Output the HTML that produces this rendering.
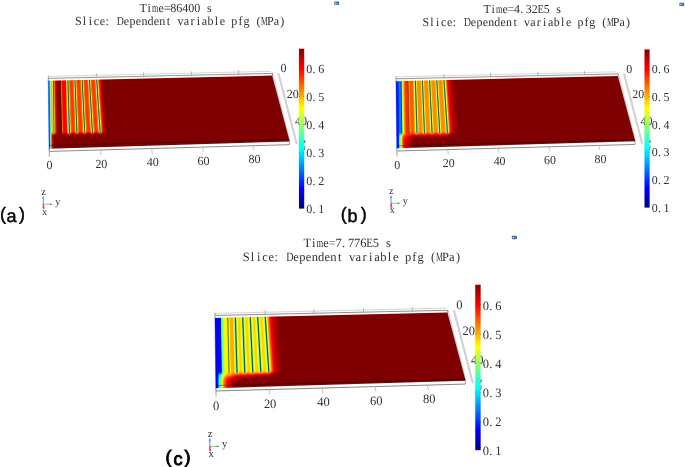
<!DOCTYPE html>
<html lang="en"><head><meta charset="utf-8"><title>Slice: Dependent variable pfg (MPa)</title>
<style>html,body{margin:0;padding:0;background:#fff;}svg{display:block;}text{text-rendering:geometricPrecision;}</style>
</head><body>
<svg width="685" height="467" viewBox="0 0 685 467">
<defs>
<filter id="jet" x="0" y="0" width="1" height="1" filterUnits="objectBoundingBox" color-interpolation-filters="sRGB"><feComponentTransfer><feFuncR type="table" tableValues="0 0 0 0 0.5 1 1 1 0.5"/><feFuncG type="table" tableValues="0 0 0.5 1 1 1 0.5 0 0"/><feFuncB type="table" tableValues="0.5 1 1 1 0.5 0 0 0 0"/></feComponentTransfer></filter>
<filter id="bl08" x="-30" y="-30" width="400" height="300" filterUnits="userSpaceOnUse" color-interpolation-filters="sRGB"><feGaussianBlur stdDeviation="0.8"/></filter>
<filter id="bl10" x="-30" y="-30" width="400" height="300" filterUnits="userSpaceOnUse" color-interpolation-filters="sRGB"><feGaussianBlur stdDeviation="1.0"/></filter>
<filter id="bl20" x="-30" y="-30" width="400" height="300" filterUnits="userSpaceOnUse" color-interpolation-filters="sRGB"><feGaussianBlur stdDeviation="2.0"/></filter>
<clipPath id="clipq"><polygon points="48.2,80.8 272.2,75.6 289.7,141.5 49,148.65" fill="#000"/></clipPath>
<linearGradient id="cbar" x1="0" y1="0" x2="0" y2="1"><stop offset="0" stop-color="#800000"/><stop offset="0.125" stop-color="#ff0000"/><stop offset="0.375" stop-color="#ffff00"/><stop offset="0.625" stop-color="#00ffff"/><stop offset="0.875" stop-color="#0000ff"/><stop offset="1" stop-color="#000080"/></linearGradient>
<linearGradient id="a_well" gradientUnits="userSpaceOnUse" x1="48.86" y1="137" x2="54.86" y2="136.93"><stop offset="0" stop-color="#000" stop-opacity="0.81"/><stop offset="0.17" stop-color="#000" stop-opacity="0.79"/><stop offset="0.25" stop-color="#000" stop-opacity="0.62"/><stop offset="0.33" stop-color="#000" stop-opacity="0.38"/><stop offset="0.42" stop-color="#000" stop-opacity="0.25"/><stop offset="0.53" stop-color="#000" stop-opacity="0.12"/><stop offset="0.73" stop-color="#000" stop-opacity="0.03"/><stop offset="1" stop-color="#000" stop-opacity="0"/></linearGradient>
<mask id="a_tm" maskUnits="userSpaceOnUse" x="20" y="40" width="140" height="130"><g filter="url(#bl08)"><polygon points="30,50 140,50 140,132.18 30,134.38" fill="#fff"/></g></mask>
<linearGradient id="a_w" gradientUnits="userSpaceOnUse" x1="48.51" y1="107" x2="53.76" y2="106.94"><stop offset="0" stop-color="#333333"/><stop offset="0.2" stop-color="#3b3b3b"/><stop offset="0.32" stop-color="#606060"/><stop offset="0.42" stop-color="#8c8c8c"/><stop offset="0.54" stop-color="#adadad"/><stop offset="0.67" stop-color="#b5b5b5"/><stop offset="0.8" stop-color="#a8a8a8"/><stop offset="0.9" stop-color="#8f8f8f"/><stop offset="1" stop-color="#737373"/></linearGradient>
<linearGradient id="a_b0" gradientUnits="userSpaceOnUse" x1="53.76" y1="107" x2="61.16" y2="106.87"><stop offset="0" stop-color="#737373"/><stop offset="0.1" stop-color="#b2b2b2"/><stop offset="0.18" stop-color="#cccccc"/><stop offset="0.25" stop-color="#dfdfdf"/><stop offset="0.4" stop-color="#f2f2f2"/><stop offset="0.55" stop-color="#fbfbfb"/><stop offset="1" stop-color="#ffffff"/></linearGradient>
<linearGradient id="a_b1" gradientUnits="userSpaceOnUse" x1="61.16" y1="107" x2="68.69" y2="106.8"><stop offset="0" stop-color="#9e9e9e"/><stop offset="0.09" stop-color="#b8b8b8"/><stop offset="0.16" stop-color="#d1d1d1"/><stop offset="0.25" stop-color="#dfdfdf"/><stop offset="0.64" stop-color="#dfdfdf"/><stop offset="0.75" stop-color="#bfbfbf"/><stop offset="0.82" stop-color="#a6a6a6"/><stop offset="0.9" stop-color="#878787"/><stop offset="1" stop-color="#6b6b6b"/></linearGradient>
<linearGradient id="a_b2" gradientUnits="userSpaceOnUse" x1="68.69" y1="107" x2="75.95" y2="106.76"><stop offset="0" stop-color="#6e6e6e"/><stop offset="0.06" stop-color="#858585"/><stop offset="0.13" stop-color="#a3a3a3"/><stop offset="0.22" stop-color="#c1c1c1"/><stop offset="0.34" stop-color="#cfcfcf"/><stop offset="0.5" stop-color="#d2d2d2"/><stop offset="0.66" stop-color="#cfcfcf"/><stop offset="0.78" stop-color="#c1c1c1"/><stop offset="0.87" stop-color="#a3a3a3"/><stop offset="0.94" stop-color="#858585"/><stop offset="1" stop-color="#6e6e6e"/></linearGradient>
<linearGradient id="a_b3" gradientUnits="userSpaceOnUse" x1="75.95" y1="107" x2="83.44" y2="106.69"><stop offset="0" stop-color="#6e6e6e"/><stop offset="0.06" stop-color="#858585"/><stop offset="0.13" stop-color="#a3a3a3"/><stop offset="0.22" stop-color="#c1c1c1"/><stop offset="0.34" stop-color="#cfcfcf"/><stop offset="0.5" stop-color="#d2d2d2"/><stop offset="0.66" stop-color="#cfcfcf"/><stop offset="0.78" stop-color="#c1c1c1"/><stop offset="0.87" stop-color="#a3a3a3"/><stop offset="0.94" stop-color="#858585"/><stop offset="1" stop-color="#6e6e6e"/></linearGradient>
<linearGradient id="a_b4" gradientUnits="userSpaceOnUse" x1="83.45" y1="107" x2="90.93" y2="106.61"><stop offset="0" stop-color="#6e6e6e"/><stop offset="0.06" stop-color="#858585"/><stop offset="0.13" stop-color="#a3a3a3"/><stop offset="0.22" stop-color="#c1c1c1"/><stop offset="0.34" stop-color="#cfcfcf"/><stop offset="0.5" stop-color="#d2d2d2"/><stop offset="0.66" stop-color="#cfcfcf"/><stop offset="0.78" stop-color="#c1c1c1"/><stop offset="0.87" stop-color="#a3a3a3"/><stop offset="0.94" stop-color="#858585"/><stop offset="1" stop-color="#6e6e6e"/></linearGradient>
<linearGradient id="a_b5" gradientUnits="userSpaceOnUse" x1="90.95" y1="107" x2="98.42" y2="106.54"><stop offset="0" stop-color="#6e6e6e"/><stop offset="0.06" stop-color="#858585"/><stop offset="0.13" stop-color="#a3a3a3"/><stop offset="0.22" stop-color="#c1c1c1"/><stop offset="0.34" stop-color="#cfcfcf"/><stop offset="0.5" stop-color="#d2d2d2"/><stop offset="0.66" stop-color="#cfcfcf"/><stop offset="0.78" stop-color="#c1c1c1"/><stop offset="0.87" stop-color="#a3a3a3"/><stop offset="0.94" stop-color="#858585"/><stop offset="1" stop-color="#6e6e6e"/></linearGradient>
<linearGradient id="a_r" gradientUnits="userSpaceOnUse" x1="98.45" y1="107" x2="105.42" y2="106.54"><stop offset="0" stop-color="#6b6b6b"/><stop offset="0.071" stop-color="#808080"/><stop offset="0.143" stop-color="#9f9f9f"/><stop offset="0.243" stop-color="#bfbfbf"/><stop offset="0.371" stop-color="#d9d9d9"/><stop offset="0.5" stop-color="#e6e6e6"/><stop offset="0.714" stop-color="#f5f5f5"/><stop offset="1" stop-color="#ffffff"/></linearGradient>
<linearGradient id="b_well" gradientUnits="userSpaceOnUse" x1="48.86" y1="137" x2="66.86" y2="136.78"><stop offset="0" stop-color="#000" stop-opacity="0.86"/><stop offset="0.1" stop-color="#000" stop-opacity="0.86"/><stop offset="0.16" stop-color="#000" stop-opacity="0.62"/><stop offset="0.21" stop-color="#000" stop-opacity="0.5"/><stop offset="0.26" stop-color="#000" stop-opacity="0.38"/><stop offset="0.32" stop-color="#000" stop-opacity="0.25"/><stop offset="0.42" stop-color="#000" stop-opacity="0.12"/><stop offset="0.51" stop-color="#000" stop-opacity="0.1"/><stop offset="0.76" stop-color="#000" stop-opacity="0.04"/><stop offset="1" stop-color="#000" stop-opacity="0"/></linearGradient>
<mask id="b_tm" maskUnits="userSpaceOnUse" x="20" y="40" width="140" height="130"><g filter="url(#bl10)"><polygon points="30,50 140,50 140,132.58 30,134.78" fill="#fff"/></g></mask>
<linearGradient id="b_w" gradientUnits="userSpaceOnUse" x1="48.51" y1="107" x2="53.76" y2="106.94"><stop offset="0" stop-color="#1a1a1a"/><stop offset="0.09" stop-color="#262626"/><stop offset="0.44" stop-color="#292929"/><stop offset="0.55" stop-color="#3d3d3d"/><stop offset="0.87" stop-color="#404040"/><stop offset="1" stop-color="#5c5c5c"/></linearGradient>
<linearGradient id="b_b0" gradientUnits="userSpaceOnUse" x1="53.76" y1="107" x2="61.16" y2="106.87"><stop offset="0" stop-color="#5c5c5c"/><stop offset="0.075" stop-color="#808080"/><stop offset="0.25" stop-color="#9f9f9f"/><stop offset="0.4" stop-color="#bfbfbf"/><stop offset="0.64" stop-color="#d4d4d4"/><stop offset="0.83" stop-color="#d5d5d5"/><stop offset="1" stop-color="#d1d1d1"/></linearGradient>
<linearGradient id="b_b1" gradientUnits="userSpaceOnUse" x1="61.16" y1="107" x2="68.69" y2="106.8"><stop offset="0" stop-color="#9e9e9e"/><stop offset="0.12" stop-color="#b8b8b8"/><stop offset="0.27" stop-color="#c9c9c9"/><stop offset="0.52" stop-color="#c9c9c9"/><stop offset="0.7" stop-color="#bababa"/><stop offset="0.82" stop-color="#9f9f9f"/><stop offset="0.9" stop-color="#808080"/><stop offset="1" stop-color="#666666"/></linearGradient>
<linearGradient id="b_b2" gradientUnits="userSpaceOnUse" x1="68.69" y1="107" x2="75.95" y2="106.76"><stop offset="0" stop-color="#6b6b6b"/><stop offset="0.07" stop-color="#858585"/><stop offset="0.15" stop-color="#a3a3a3"/><stop offset="0.27" stop-color="#b8b8b8"/><stop offset="0.5" stop-color="#bebebe"/><stop offset="0.73" stop-color="#b8b8b8"/><stop offset="0.85" stop-color="#a3a3a3"/><stop offset="0.93" stop-color="#858585"/><stop offset="1" stop-color="#6b6b6b"/></linearGradient>
<linearGradient id="b_b3" gradientUnits="userSpaceOnUse" x1="75.95" y1="107" x2="83.44" y2="106.69"><stop offset="0" stop-color="#6b6b6b"/><stop offset="0.07" stop-color="#858585"/><stop offset="0.15" stop-color="#a3a3a3"/><stop offset="0.27" stop-color="#b8b8b8"/><stop offset="0.5" stop-color="#bebebe"/><stop offset="0.73" stop-color="#b8b8b8"/><stop offset="0.85" stop-color="#a3a3a3"/><stop offset="0.93" stop-color="#858585"/><stop offset="1" stop-color="#6b6b6b"/></linearGradient>
<linearGradient id="b_b4" gradientUnits="userSpaceOnUse" x1="83.45" y1="107" x2="90.93" y2="106.61"><stop offset="0" stop-color="#6b6b6b"/><stop offset="0.07" stop-color="#858585"/><stop offset="0.15" stop-color="#a3a3a3"/><stop offset="0.27" stop-color="#b8b8b8"/><stop offset="0.5" stop-color="#bebebe"/><stop offset="0.73" stop-color="#b8b8b8"/><stop offset="0.85" stop-color="#a3a3a3"/><stop offset="0.93" stop-color="#858585"/><stop offset="1" stop-color="#6b6b6b"/></linearGradient>
<linearGradient id="b_b5" gradientUnits="userSpaceOnUse" x1="90.95" y1="107" x2="98.42" y2="106.54"><stop offset="0" stop-color="#6b6b6b"/><stop offset="0.07" stop-color="#858585"/><stop offset="0.15" stop-color="#a3a3a3"/><stop offset="0.27" stop-color="#b8b8b8"/><stop offset="0.5" stop-color="#bebebe"/><stop offset="0.73" stop-color="#b8b8b8"/><stop offset="0.85" stop-color="#a3a3a3"/><stop offset="0.93" stop-color="#858585"/><stop offset="1" stop-color="#6b6b6b"/></linearGradient>
<linearGradient id="b_r" gradientUnits="userSpaceOnUse" x1="98.45" y1="107" x2="110.4" y2="106.22"><stop offset="0" stop-color="#666666"/><stop offset="0.05" stop-color="#808080"/><stop offset="0.108" stop-color="#9f9f9f"/><stop offset="0.183" stop-color="#bfbfbf"/><stop offset="0.3" stop-color="#dfdfdf"/><stop offset="0.458" stop-color="#ededed"/><stop offset="0.667" stop-color="#f7f7f7"/><stop offset="1" stop-color="#ffffff"/></linearGradient>
<linearGradient id="c_well" gradientUnits="userSpaceOnUse" x1="48.86" y1="137" x2="70.06" y2="136.75"><stop offset="0" stop-color="#000" stop-opacity="0.88"/><stop offset="0.09" stop-color="#000" stop-opacity="0.88"/><stop offset="0.15" stop-color="#000" stop-opacity="0.62"/><stop offset="0.24" stop-color="#000" stop-opacity="0.5"/><stop offset="0.29" stop-color="#000" stop-opacity="0.38"/><stop offset="0.38" stop-color="#000" stop-opacity="0.25"/><stop offset="0.52" stop-color="#000" stop-opacity="0.12"/><stop offset="0.64" stop-color="#000" stop-opacity="0.1"/><stop offset="0.82" stop-color="#000" stop-opacity="0.03"/><stop offset="1" stop-color="#000" stop-opacity="0"/></linearGradient>
<mask id="c_tm" maskUnits="userSpaceOnUse" x="20" y="40" width="140" height="130"><g filter="url(#bl10)"><polygon points="30,50 140,50 140,132.58 30,134.78" fill="#fff"/></g></mask>
<linearGradient id="c_w" gradientUnits="userSpaceOnUse" x1="48.51" y1="107" x2="53.76" y2="106.94"><stop offset="0" stop-color="#1f1f1f"/><stop offset="0.9" stop-color="#202020"/><stop offset="1" stop-color="#242424"/></linearGradient>
<linearGradient id="c_b0" gradientUnits="userSpaceOnUse" x1="53.76" y1="107" x2="61.16" y2="106.87"><stop offset="0" stop-color="#242424"/><stop offset="0.12" stop-color="#606060"/><stop offset="0.3" stop-color="#808080"/><stop offset="0.5" stop-color="#9e9e9e"/><stop offset="0.85" stop-color="#a3a3a3"/><stop offset="1" stop-color="#999999"/></linearGradient>
<linearGradient id="c_b1" gradientUnits="userSpaceOnUse" x1="61.16" y1="107" x2="68.69" y2="106.8"><stop offset="0" stop-color="#858585"/><stop offset="0.1" stop-color="#8f8f8f"/><stop offset="0.27" stop-color="#b2b2b2"/><stop offset="0.62" stop-color="#b5b5b5"/><stop offset="0.78" stop-color="#9f9f9f"/><stop offset="0.9" stop-color="#808080"/><stop offset="1" stop-color="#616161"/></linearGradient>
<linearGradient id="c_b2" gradientUnits="userSpaceOnUse" x1="68.69" y1="107" x2="75.95" y2="106.76"><stop offset="0" stop-color="#616161"/><stop offset="0.09" stop-color="#808080"/><stop offset="0.2" stop-color="#999999"/><stop offset="0.35" stop-color="#a7a7a7"/><stop offset="0.5" stop-color="#ababab"/><stop offset="0.65" stop-color="#a7a7a7"/><stop offset="0.8" stop-color="#999999"/><stop offset="0.91" stop-color="#808080"/><stop offset="1" stop-color="#616161"/></linearGradient>
<linearGradient id="c_b3" gradientUnits="userSpaceOnUse" x1="75.95" y1="107" x2="83.44" y2="106.69"><stop offset="0" stop-color="#616161"/><stop offset="0.09" stop-color="#808080"/><stop offset="0.2" stop-color="#999999"/><stop offset="0.35" stop-color="#a7a7a7"/><stop offset="0.5" stop-color="#ababab"/><stop offset="0.65" stop-color="#a7a7a7"/><stop offset="0.8" stop-color="#999999"/><stop offset="0.91" stop-color="#808080"/><stop offset="1" stop-color="#616161"/></linearGradient>
<linearGradient id="c_b4" gradientUnits="userSpaceOnUse" x1="83.45" y1="107" x2="90.93" y2="106.61"><stop offset="0" stop-color="#616161"/><stop offset="0.09" stop-color="#808080"/><stop offset="0.2" stop-color="#999999"/><stop offset="0.35" stop-color="#a7a7a7"/><stop offset="0.5" stop-color="#ababab"/><stop offset="0.65" stop-color="#a7a7a7"/><stop offset="0.8" stop-color="#999999"/><stop offset="0.91" stop-color="#808080"/><stop offset="1" stop-color="#616161"/></linearGradient>
<linearGradient id="c_b5" gradientUnits="userSpaceOnUse" x1="90.95" y1="107" x2="98.42" y2="106.54"><stop offset="0" stop-color="#616161"/><stop offset="0.09" stop-color="#808080"/><stop offset="0.2" stop-color="#999999"/><stop offset="0.35" stop-color="#a7a7a7"/><stop offset="0.5" stop-color="#ababab"/><stop offset="0.65" stop-color="#a7a7a7"/><stop offset="0.8" stop-color="#999999"/><stop offset="0.91" stop-color="#808080"/><stop offset="1" stop-color="#616161"/></linearGradient>
<linearGradient id="c_r" gradientUnits="userSpaceOnUse" x1="98.45" y1="107" x2="112.84" y2="106.06"><stop offset="0" stop-color="#616161"/><stop offset="0.04" stop-color="#808080"/><stop offset="0.1" stop-color="#9f9f9f"/><stop offset="0.2" stop-color="#bfbfbf"/><stop offset="0.333" stop-color="#dfdfdf"/><stop offset="0.5" stop-color="#eeeeee"/><stop offset="0.733" stop-color="#f9f9f9"/><stop offset="1" stop-color="#ffffff"/></linearGradient>
</defs>
<rect width="685" height="467" fill="#fff"/>
<g transform="translate(0 0) scale(1)">
<line x1="48.3" y1="76.4" x2="270.8" y2="71.3" stroke="#c4c4c4" stroke-width="0.7"/>
<line x1="48.3" y1="78.4" x2="272.5" y2="73.4" stroke="#787878" stroke-width="0.8"/>
<line x1="48.3" y1="75.8" x2="48.3" y2="81" stroke="#8a8a8a" stroke-width="0.8"/>
<line x1="48.2" y1="80" x2="49.1" y2="150" stroke="#9a9aa8" stroke-width="0.8"/>
<line x1="272.5" y1="73.2" x2="272.4" y2="75.9" stroke="#666" stroke-width="0.8"/>
<line x1="96.7" y1="73.42" x2="96.7" y2="77.72" stroke="#909090" stroke-width="0.6"/>
<line x1="143.6" y1="72.37" x2="143.6" y2="76.67" stroke="#909090" stroke-width="0.6"/>
<line x1="191.4" y1="71.31" x2="191.4" y2="75.61" stroke="#909090" stroke-width="0.6"/>
<line x1="238.4" y1="70.26" x2="238.4" y2="74.56" stroke="#909090" stroke-width="0.6"/>
<line x1="49.2" y1="151.4" x2="289.4" y2="144.7" stroke="#7c7c7c" stroke-width="0.9"/>
<line x1="49.2" y1="148.5" x2="49.3" y2="156.8" stroke="#8c8c8c" stroke-width="0.8"/>
<line x1="289.5" y1="141.3" x2="289.4" y2="144.9" stroke="#8c8c8c" stroke-width="0.8"/>
<line x1="100.5" y1="149.6" x2="101" y2="154.8" stroke="#a0a0a0" stroke-width="0.6"/>
<line x1="151.5" y1="148.2" x2="152.4" y2="153.7" stroke="#a0a0a0" stroke-width="0.6"/>
<line x1="202.5" y1="146.8" x2="203.3" y2="151.9" stroke="#a0a0a0" stroke-width="0.6"/>
<line x1="252.6" y1="145.4" x2="254" y2="150.4" stroke="#a0a0a0" stroke-width="0.6"/>
<line x1="278.3" y1="73.3" x2="296.6" y2="143.9" stroke="#e0e0e0" stroke-width="1.5"/>
<line x1="277.75" y1="73.3" x2="296.05" y2="143.9" stroke="#bdbdbd" stroke-width="0.45"/>
<line x1="278.95" y1="73.3" x2="297.25" y2="143.9" stroke="#b0b0b0" stroke-width="0.5"/>
<line x1="272.7" y1="73.6" x2="289.9" y2="141.4" stroke="#b0b0b0" stroke-width="0.7"/>
<g clip-path="url(#clipq)">
<g filter="url(#jet)">
<polygon points="30,60 310,60 310,165 30,165" fill="#fff"/>
<polygon points="40,70 55.07,70 56.13,160 40,160" fill="url(#a_well)"/>
<g mask="url(#a_tm)">
<polygon points="44.07,70 53.97,70 54.77,146 44.97,146" fill="url(#a_w)"/>
<polygon points="53.37,70 60.89,70 62.67,146 54.17,146" fill="url(#a_b0)"/>
<polygon points="60.29,70 68.19,70 70.45,146 62.07,146" fill="url(#a_b1)"/>
<polygon points="67.59,70 75.17,70 78.01,146 69.85,146" fill="url(#a_b2)"/>
<polygon points="74.57,70 82.32,70 85.87,146 77.41,146" fill="url(#a_b3)"/>
<polygon points="81.72,70 89.47,70 93.75,146 85.27,146" fill="url(#a_b4)"/>
<polygon points="88.87,70 96.63,70 101.61,146 93.15,146" fill="url(#a_b5)"/>
<polygon points="96.03,70 103.63,70 108.61,146 101.01,146" fill="url(#a_r)"/>
</g>
</g>
<g>
<line x1="53.45" y1="77.68" x2="54.05" y2="133.6" stroke="#145c54" stroke-width="0.9" stroke-opacity="0.95" stroke-linecap="round"/>
<line x1="60.47" y1="77.51" x2="61.8" y2="133.45" stroke="#180800" stroke-width="0.8" stroke-opacity="0.9" stroke-linecap="round"/>
<line x1="67.81" y1="77.34" x2="69.5" y2="133.29" stroke="#12568c" stroke-width="1.15" stroke-opacity="0.92" stroke-linecap="round"/>
<line x1="74.84" y1="77.18" x2="76.97" y2="133.14" stroke="#12568c" stroke-width="1.15" stroke-opacity="0.92" stroke-linecap="round"/>
<line x1="82.05" y1="77.01" x2="84.71" y2="132.99" stroke="#12568c" stroke-width="1.15" stroke-opacity="0.92" stroke-linecap="round"/>
<line x1="89.25" y1="76.84" x2="92.46" y2="132.83" stroke="#12568c" stroke-width="1.15" stroke-opacity="0.92" stroke-linecap="round"/>
<line x1="96.46" y1="76.68" x2="100.2" y2="132.68" stroke="#12568c" stroke-width="1.15" stroke-opacity="0.92" stroke-linecap="round"/>
</g>
<line x1="40" y1="145.72" x2="300" y2="139.25" stroke="#000" stroke-width="0.7" opacity="0.55"/>
</g>
<g font-family='"Liberation Serif", serif' fill="#303030"><text x="304.08 310.2" y="125.1" font-size="12.3" text-anchor="middle" transform="scale(0.98 1)">40</text></g>
<rect x="299" y="48.7" width="5.2" height="159.9" fill="url(#cbar)"/>
<line x1="299" y1="180.65" x2="299.8" y2="180.65" stroke="#333" stroke-width="0.5"/>
<line x1="303.4" y1="180.65" x2="304.2" y2="180.65" stroke="#333" stroke-width="0.5"/>
<line x1="299" y1="152.6" x2="299.8" y2="152.6" stroke="#333" stroke-width="0.5"/>
<line x1="303.4" y1="152.6" x2="304.2" y2="152.6" stroke="#333" stroke-width="0.5"/>
<line x1="299" y1="124.55" x2="299.8" y2="124.55" stroke="#333" stroke-width="0.5"/>
<line x1="303.4" y1="124.55" x2="304.2" y2="124.55" stroke="#333" stroke-width="0.5"/>
<line x1="299" y1="96.5" x2="299.8" y2="96.5" stroke="#333" stroke-width="0.5"/>
<line x1="303.4" y1="96.5" x2="304.2" y2="96.5" stroke="#333" stroke-width="0.5"/>
<line x1="299" y1="68.45" x2="299.8" y2="68.45" stroke="#333" stroke-width="0.5"/>
<line x1="303.4" y1="68.45" x2="304.2" y2="68.45" stroke="#333" stroke-width="0.5"/>
<line x1="304.7" y1="140.3" x2="304.7" y2="142.9" stroke="#222" stroke-width="0.8"/>
<line x1="304.9" y1="146" x2="304.3" y2="150.2" stroke="#333" stroke-width="0.6"/>
<g font-family='"Liberation Serif", serif' fill="#303030">
<text x="146.22 152.35 158.47 164.59 170.71 176.84 182.96 189.08 195.2 201.33 207.45 213.57" y="12" font-size="12.3" text-anchor="middle" transform="scale(0.98 1)" aria-label="Time=86400 s">Ti<tspan textLength="6.58" lengthAdjust="spacingAndGlyphs">m</tspan>e=86400 s</text>
<text x="80 86.12 92.24 98.37 104.49 109.39 116.73 122.86 128.98 135.1 141.22 147.35 153.47 159.59 165.71 171.84 177.96 184.08 190.2 196.33 202.45 208.57 214.69 220.82 226.94 233.06 239.18 245.31 251.43 257.55 263.67 269.8 275.92 282.04 288.16" y="25.4" font-size="12.3" text-anchor="middle" transform="scale(0.98 1)" aria-label="Slice: Dependent variable pfg (MPa)">Slice: <tspan textLength="7.2" lengthAdjust="spacingAndGlyphs">D</tspan>ependent variable pfg (<tspan textLength="6.79" lengthAdjust="spacingAndGlyphs">M</tspan>Pa)</text>
<text x="315.61 320.51 327.86" y="213" font-size="12.3" text-anchor="middle" transform="scale(0.98 1)">0.1</text>
<text x="315.61 320.51 327.86" y="184.95" font-size="12.3" text-anchor="middle" transform="scale(0.98 1)">0.2</text>
<text x="315.61 320.51 327.86" y="156.9" font-size="12.3" text-anchor="middle" transform="scale(0.98 1)">0.3</text>
<text x="315.61 320.51 327.86" y="128.85" font-size="12.3" text-anchor="middle" transform="scale(0.98 1)">0.4</text>
<text x="315.61 320.51 327.86" y="100.8" font-size="12.3" text-anchor="middle" transform="scale(0.98 1)">0.5</text>
<text x="315.61 320.51 327.86" y="72.75" font-size="12.3" text-anchor="middle" transform="scale(0.98 1)">0.6</text>
<text x="50.41" y="169.3" font-size="12.3" text-anchor="middle" transform="scale(0.98 1)">0</text>
<text x="100.41 106.53" y="167.8" font-size="12.3" text-anchor="middle" transform="scale(0.98 1)">20</text>
<text x="152.86 158.98" y="165.8" font-size="12.3" text-anchor="middle" transform="scale(0.98 1)">40</text>
<text x="204.69 210.82" y="164.5" font-size="12.3" text-anchor="middle" transform="scale(0.98 1)">60</text>
<text x="256.73 262.86" y="163.2" font-size="12.3" text-anchor="middle" transform="scale(0.98 1)">80</text>
<text x="289.39" y="72.2" font-size="12.3" text-anchor="middle" transform="scale(0.98 1)">0</text>
<text x="295.71 301.84" y="97.5" font-size="12.3" text-anchor="middle" transform="scale(0.98 1)">20</text>
<text x="44.39" y="194.9" font-size="10.5" text-anchor="middle" transform="scale(0.98 1)">z</text>
<text x="58.88" y="204.9" font-size="10.5" text-anchor="middle" transform="scale(0.98 1)">y</text>
<text x="45.41" y="214.5" font-size="10.5" text-anchor="middle" transform="scale(0.98 1)">x</text>
</g>
<g transform="translate(0 0)">
<line x1="43.25" y1="204.4" x2="43.25" y2="198" stroke="#4a86d8" stroke-width="0.9"/>
<polygon points="43.25,195.9 44.3,198.8 42.2,198.8" fill="#4a86d8"/>
<line x1="43" y1="204.2" x2="50.6" y2="204.2" stroke="#4db848" stroke-width="0.7"/>
<polygon points="52.8,204.2 50,203.2 50,205.2" fill="#4db848"/>
<line x1="43.3" y1="204.2" x2="43.5" y2="208.6" stroke="#e0306a" stroke-width="1.4"/>
<polygon points="43.9,206.6 44.9,208.6 43.6,208.8" fill="#e0306a"/>
</g>
<rect x="334.2" y="1.5" width="4.9" height="3.3" rx="0.9" fill="#2f62c4"/>
<polygon points="335.2,2.1 335.2,4.2 337.1,3.15" fill="#ece45a"/>
<rect x="337.0" y="2.6" width="0.9" height="1.1" fill="#3aa7e0"/>
</g>
<g transform="translate(348.17 1.3) scale(0.991 0.989)">
<line x1="48.3" y1="76.4" x2="270.8" y2="71.3" stroke="#c4c4c4" stroke-width="0.7"/>
<line x1="48.3" y1="78.4" x2="272.5" y2="73.4" stroke="#787878" stroke-width="0.8"/>
<line x1="48.3" y1="75.8" x2="48.3" y2="81" stroke="#8a8a8a" stroke-width="0.8"/>
<line x1="48.2" y1="80" x2="49.1" y2="150" stroke="#9a9aa8" stroke-width="0.8"/>
<line x1="272.5" y1="73.2" x2="272.4" y2="75.9" stroke="#666" stroke-width="0.8"/>
<line x1="96.7" y1="73.42" x2="96.7" y2="77.72" stroke="#909090" stroke-width="0.6"/>
<line x1="143.6" y1="72.37" x2="143.6" y2="76.67" stroke="#909090" stroke-width="0.6"/>
<line x1="191.4" y1="71.31" x2="191.4" y2="75.61" stroke="#909090" stroke-width="0.6"/>
<line x1="238.4" y1="70.26" x2="238.4" y2="74.56" stroke="#909090" stroke-width="0.6"/>
<line x1="49.2" y1="151.4" x2="289.4" y2="144.7" stroke="#7c7c7c" stroke-width="0.9"/>
<line x1="49.2" y1="148.5" x2="49.3" y2="156.8" stroke="#8c8c8c" stroke-width="0.8"/>
<line x1="289.5" y1="141.3" x2="289.4" y2="144.9" stroke="#8c8c8c" stroke-width="0.8"/>
<line x1="100.5" y1="149.6" x2="101" y2="154.8" stroke="#a0a0a0" stroke-width="0.6"/>
<line x1="151.5" y1="148.2" x2="152.4" y2="153.7" stroke="#a0a0a0" stroke-width="0.6"/>
<line x1="202.5" y1="146.8" x2="203.3" y2="151.9" stroke="#a0a0a0" stroke-width="0.6"/>
<line x1="252.6" y1="145.4" x2="254" y2="150.4" stroke="#a0a0a0" stroke-width="0.6"/>
<line x1="278.3" y1="73.3" x2="296.6" y2="143.9" stroke="#e0e0e0" stroke-width="1.5"/>
<line x1="277.75" y1="73.3" x2="296.05" y2="143.9" stroke="#bdbdbd" stroke-width="0.45"/>
<line x1="278.95" y1="73.3" x2="297.25" y2="143.9" stroke="#b0b0b0" stroke-width="0.5"/>
<line x1="272.7" y1="73.6" x2="289.9" y2="141.4" stroke="#b0b0b0" stroke-width="0.7"/>
<g clip-path="url(#clipq)">
<g filter="url(#jet)">
<polygon points="30,60 310,60 310,165 30,165" fill="#fff"/>
<g filter="url(#bl20)"><polygon points="30,60 96.87,60 101.81,135.28 54,136.08 30,136.08" fill="#000" fill-opacity="0.14"/></g>
<polygon points="40,70 67.07,70 68.13,160 40,160" fill="url(#b_well)"/>
<g mask="url(#b_tm)">
<polygon points="44.07,70 53.97,70 54.77,146 44.97,146" fill="url(#b_w)"/>
<polygon points="53.37,70 60.89,70 62.67,146 54.17,146" fill="url(#b_b0)"/>
<polygon points="60.29,70 68.19,70 70.45,146 62.07,146" fill="url(#b_b1)"/>
<polygon points="67.59,70 75.17,70 78.01,146 69.85,146" fill="url(#b_b2)"/>
<polygon points="74.57,70 82.32,70 85.87,146 77.41,146" fill="url(#b_b3)"/>
<polygon points="81.72,70 89.47,70 93.75,146 85.27,146" fill="url(#b_b4)"/>
<polygon points="88.87,70 96.63,70 101.61,146 93.15,146" fill="url(#b_b5)"/>
<polygon points="96.03,70 108.63,70 113.61,146 101.01,146" fill="url(#b_r)"/>
</g>
</g>
<g>
<line x1="53.45" y1="77.68" x2="54.05" y2="134.2" stroke="#000c98" stroke-width="0.9" stroke-opacity="0.85" stroke-linecap="round"/>
<line x1="60.47" y1="77.51" x2="61.8" y2="134.05" stroke="#241600" stroke-width="0.7" stroke-opacity="0.8" stroke-linecap="round"/>
<line x1="67.81" y1="77.34" x2="69.5" y2="133.89" stroke="#10508c" stroke-width="1.1" stroke-opacity="0.92" stroke-linecap="round"/>
<line x1="74.84" y1="77.18" x2="76.97" y2="133.74" stroke="#10508c" stroke-width="1.1" stroke-opacity="0.92" stroke-linecap="round"/>
<line x1="82.05" y1="77.01" x2="84.71" y2="133.59" stroke="#10508c" stroke-width="1.1" stroke-opacity="0.92" stroke-linecap="round"/>
<line x1="89.25" y1="76.84" x2="92.46" y2="133.43" stroke="#10508c" stroke-width="1.1" stroke-opacity="0.92" stroke-linecap="round"/>
<line x1="96.46" y1="76.68" x2="100.2" y2="133.28" stroke="#10508c" stroke-width="1.1" stroke-opacity="0.92" stroke-linecap="round"/>
</g>
<line x1="40" y1="146.32" x2="300" y2="139.85" stroke="#000" stroke-width="0.7" opacity="0.55"/>
</g>
<g font-family='"Liberation Serif", serif' fill="#303030"><text x="304.08 310.2" y="125.1" font-size="12.3" text-anchor="middle" transform="scale(0.98 1)">40</text></g>
<rect x="299" y="48.7" width="5.2" height="159.9" fill="url(#cbar)"/>
<line x1="299" y1="180.65" x2="299.8" y2="180.65" stroke="#333" stroke-width="0.5"/>
<line x1="303.4" y1="180.65" x2="304.2" y2="180.65" stroke="#333" stroke-width="0.5"/>
<line x1="299" y1="152.6" x2="299.8" y2="152.6" stroke="#333" stroke-width="0.5"/>
<line x1="303.4" y1="152.6" x2="304.2" y2="152.6" stroke="#333" stroke-width="0.5"/>
<line x1="299" y1="124.55" x2="299.8" y2="124.55" stroke="#333" stroke-width="0.5"/>
<line x1="303.4" y1="124.55" x2="304.2" y2="124.55" stroke="#333" stroke-width="0.5"/>
<line x1="299" y1="96.5" x2="299.8" y2="96.5" stroke="#333" stroke-width="0.5"/>
<line x1="303.4" y1="96.5" x2="304.2" y2="96.5" stroke="#333" stroke-width="0.5"/>
<line x1="299" y1="68.45" x2="299.8" y2="68.45" stroke="#333" stroke-width="0.5"/>
<line x1="303.4" y1="68.45" x2="304.2" y2="68.45" stroke="#333" stroke-width="0.5"/>
<line x1="304.7" y1="140.3" x2="304.7" y2="142.9" stroke="#222" stroke-width="0.8"/>
<line x1="304.9" y1="146" x2="304.3" y2="150.2" stroke="#333" stroke-width="0.6"/>
<g font-family='"Liberation Serif", serif' fill="#303030">
<text x="143.16 149.29 155.41 161.53 167.65 173.78 178.67 186.02 192.14 198.27 204.39 210.51 216.63" y="12" font-size="12.3" text-anchor="middle" transform="scale(0.98 1)" aria-label="Time=4.32E5 s">Ti<tspan textLength="6.58" lengthAdjust="spacingAndGlyphs">m</tspan>e=4.32<tspan textLength="6.58" lengthAdjust="spacingAndGlyphs">E</tspan>5 s</text>
<text x="80 86.12 92.24 98.37 104.49 109.39 116.73 122.86 128.98 135.1 141.22 147.35 153.47 159.59 165.71 171.84 177.96 184.08 190.2 196.33 202.45 208.57 214.69 220.82 226.94 233.06 239.18 245.31 251.43 257.55 263.67 269.8 275.92 282.04 288.16" y="25.4" font-size="12.3" text-anchor="middle" transform="scale(0.98 1)" aria-label="Slice: Dependent variable pfg (MPa)">Slice: <tspan textLength="7.2" lengthAdjust="spacingAndGlyphs">D</tspan>ependent variable pfg (<tspan textLength="6.79" lengthAdjust="spacingAndGlyphs">M</tspan>Pa)</text>
<text x="315.61 320.51 327.86" y="213" font-size="12.3" text-anchor="middle" transform="scale(0.98 1)">0.1</text>
<text x="315.61 320.51 327.86" y="184.95" font-size="12.3" text-anchor="middle" transform="scale(0.98 1)">0.2</text>
<text x="315.61 320.51 327.86" y="156.9" font-size="12.3" text-anchor="middle" transform="scale(0.98 1)">0.3</text>
<text x="315.61 320.51 327.86" y="128.85" font-size="12.3" text-anchor="middle" transform="scale(0.98 1)">0.4</text>
<text x="315.61 320.51 327.86" y="100.8" font-size="12.3" text-anchor="middle" transform="scale(0.98 1)">0.5</text>
<text x="315.61 320.51 327.86" y="72.75" font-size="12.3" text-anchor="middle" transform="scale(0.98 1)">0.6</text>
<text x="50.41" y="169.3" font-size="12.3" text-anchor="middle" transform="scale(0.98 1)">0</text>
<text x="100.41 106.53" y="167.8" font-size="12.3" text-anchor="middle" transform="scale(0.98 1)">20</text>
<text x="152.86 158.98" y="165.8" font-size="12.3" text-anchor="middle" transform="scale(0.98 1)">40</text>
<text x="204.69 210.82" y="164.5" font-size="12.3" text-anchor="middle" transform="scale(0.98 1)">60</text>
<text x="256.73 262.86" y="163.2" font-size="12.3" text-anchor="middle" transform="scale(0.98 1)">80</text>
<text x="289.39" y="72.2" font-size="12.3" text-anchor="middle" transform="scale(0.98 1)">0</text>
<text x="295.71 301.84" y="97.5" font-size="12.3" text-anchor="middle" transform="scale(0.98 1)">20</text>
<text x="44.39" y="194.9" font-size="10.5" text-anchor="middle" transform="scale(0.98 1)">z</text>
<text x="58.88" y="204.9" font-size="10.5" text-anchor="middle" transform="scale(0.98 1)">y</text>
<text x="45.41" y="214.5" font-size="10.5" text-anchor="middle" transform="scale(0.98 1)">x</text>
</g>
<g transform="translate(0 0)">
<line x1="43.25" y1="204.4" x2="43.25" y2="198" stroke="#4a86d8" stroke-width="0.9"/>
<polygon points="43.25,195.9 44.3,198.8 42.2,198.8" fill="#4a86d8"/>
<line x1="43" y1="204.2" x2="50.6" y2="204.2" stroke="#4db848" stroke-width="0.7"/>
<polygon points="52.8,204.2 50,203.2 50,205.2" fill="#4db848"/>
<line x1="43.3" y1="204.2" x2="43.5" y2="208.6" stroke="#e0306a" stroke-width="1.4"/>
<polygon points="43.9,206.6 44.9,208.6 43.6,208.8" fill="#e0306a"/>
</g>
<rect x="334.2" y="1.5" width="4.9" height="3.3" rx="0.9" fill="#2f62c4"/>
<polygon points="335.2,2.1 335.2,4.2 337.1,3.15" fill="#ece45a"/>
<rect x="337.0" y="2.6" width="0.9" height="1.1" fill="#3aa7e0"/>
</g>
<g transform="translate(164.9 234.3) scale(1.038 1.035)">
<line x1="48.3" y1="76.4" x2="270.8" y2="71.3" stroke="#c4c4c4" stroke-width="0.7"/>
<line x1="48.3" y1="78.4" x2="272.5" y2="73.4" stroke="#787878" stroke-width="0.8"/>
<line x1="48.3" y1="75.8" x2="48.3" y2="81" stroke="#8a8a8a" stroke-width="0.8"/>
<line x1="48.2" y1="80" x2="49.1" y2="150" stroke="#9a9aa8" stroke-width="0.8"/>
<line x1="272.5" y1="73.2" x2="272.4" y2="75.9" stroke="#666" stroke-width="0.8"/>
<line x1="96.7" y1="73.42" x2="96.7" y2="77.72" stroke="#909090" stroke-width="0.6"/>
<line x1="143.6" y1="72.37" x2="143.6" y2="76.67" stroke="#909090" stroke-width="0.6"/>
<line x1="191.4" y1="71.31" x2="191.4" y2="75.61" stroke="#909090" stroke-width="0.6"/>
<line x1="238.4" y1="70.26" x2="238.4" y2="74.56" stroke="#909090" stroke-width="0.6"/>
<line x1="49.2" y1="151.4" x2="289.4" y2="144.7" stroke="#7c7c7c" stroke-width="0.9"/>
<line x1="49.2" y1="148.5" x2="49.3" y2="156.8" stroke="#8c8c8c" stroke-width="0.8"/>
<line x1="289.5" y1="141.3" x2="289.4" y2="144.9" stroke="#8c8c8c" stroke-width="0.8"/>
<line x1="100.5" y1="149.6" x2="101" y2="154.8" stroke="#a0a0a0" stroke-width="0.6"/>
<line x1="151.5" y1="148.2" x2="152.4" y2="153.7" stroke="#a0a0a0" stroke-width="0.6"/>
<line x1="202.5" y1="146.8" x2="203.3" y2="151.9" stroke="#a0a0a0" stroke-width="0.6"/>
<line x1="252.6" y1="145.4" x2="254" y2="150.4" stroke="#a0a0a0" stroke-width="0.6"/>
<line x1="278.3" y1="73.3" x2="296.6" y2="143.9" stroke="#e0e0e0" stroke-width="1.5"/>
<line x1="277.75" y1="73.3" x2="296.05" y2="143.9" stroke="#bdbdbd" stroke-width="0.45"/>
<line x1="278.95" y1="73.3" x2="297.25" y2="143.9" stroke="#b0b0b0" stroke-width="0.5"/>
<line x1="272.7" y1="73.6" x2="289.9" y2="141.4" stroke="#b0b0b0" stroke-width="0.7"/>
<g clip-path="url(#clipq)">
<g filter="url(#jet)">
<polygon points="30,60 310,60 310,165 30,165" fill="#fff"/>
<g filter="url(#bl20)"><polygon points="30,60 97.57,60 102.46,134.58 54,137.78 30,137.78" fill="#000" fill-opacity="0.24"/></g>
<polygon points="40,70 70.27,70 71.33,160 40,160" fill="url(#c_well)"/>
<g mask="url(#c_tm)">
<polygon points="44.07,70 53.97,70 54.77,146 44.97,146" fill="url(#c_w)"/>
<polygon points="53.37,70 60.89,70 62.67,146 54.17,146" fill="url(#c_b0)"/>
<polygon points="60.29,70 68.19,70 70.45,146 62.07,146" fill="url(#c_b1)"/>
<polygon points="67.59,70 75.17,70 78.01,146 69.85,146" fill="url(#c_b2)"/>
<polygon points="74.57,70 82.32,70 85.87,146 77.41,146" fill="url(#c_b3)"/>
<polygon points="81.72,70 89.47,70 93.75,146 85.27,146" fill="url(#c_b4)"/>
<polygon points="88.87,70 96.63,70 101.61,146 93.15,146" fill="url(#c_b5)"/>
<polygon points="96.03,70 111.08,70 116.06,146 101.01,146" fill="url(#c_r)"/>
</g>
</g>
<g>
<line x1="53.45" y1="77.68" x2="54.05" y2="134.2" stroke="#000088" stroke-width="0.9" stroke-opacity="0.85" stroke-linecap="round"/>
<line x1="60.47" y1="77.51" x2="61.8" y2="134.05" stroke="#1a1000" stroke-width="0.7" stroke-opacity="0.85" stroke-linecap="round"/>
<line x1="67.81" y1="77.34" x2="69.5" y2="133.89" stroke="#0c4690" stroke-width="1.15" stroke-opacity="0.94" stroke-linecap="round"/>
<line x1="74.84" y1="77.18" x2="76.97" y2="133.74" stroke="#0c4690" stroke-width="1.15" stroke-opacity="0.94" stroke-linecap="round"/>
<line x1="82.05" y1="77.01" x2="84.71" y2="133.59" stroke="#0c4690" stroke-width="1.15" stroke-opacity="0.94" stroke-linecap="round"/>
<line x1="89.25" y1="76.84" x2="92.46" y2="133.43" stroke="#0c4690" stroke-width="1.15" stroke-opacity="0.94" stroke-linecap="round"/>
<line x1="96.46" y1="76.68" x2="100.2" y2="133.28" stroke="#0c4690" stroke-width="1.15" stroke-opacity="0.94" stroke-linecap="round"/>
</g>
<line x1="40" y1="146.32" x2="300" y2="139.85" stroke="#000" stroke-width="0.7" opacity="0.55"/>
</g>
<g font-family='"Liberation Serif", serif' fill="#303030"><text x="304.08 310.2" y="125.1" font-size="12.3" text-anchor="middle" transform="scale(0.98 1)">40</text></g>
<rect x="299" y="48.7" width="5.2" height="159.9" fill="url(#cbar)"/>
<line x1="299" y1="180.65" x2="299.8" y2="180.65" stroke="#333" stroke-width="0.5"/>
<line x1="303.4" y1="180.65" x2="304.2" y2="180.65" stroke="#333" stroke-width="0.5"/>
<line x1="299" y1="152.6" x2="299.8" y2="152.6" stroke="#333" stroke-width="0.5"/>
<line x1="303.4" y1="152.6" x2="304.2" y2="152.6" stroke="#333" stroke-width="0.5"/>
<line x1="299" y1="124.55" x2="299.8" y2="124.55" stroke="#333" stroke-width="0.5"/>
<line x1="303.4" y1="124.55" x2="304.2" y2="124.55" stroke="#333" stroke-width="0.5"/>
<line x1="299" y1="96.5" x2="299.8" y2="96.5" stroke="#333" stroke-width="0.5"/>
<line x1="303.4" y1="96.5" x2="304.2" y2="96.5" stroke="#333" stroke-width="0.5"/>
<line x1="299" y1="68.45" x2="299.8" y2="68.45" stroke="#333" stroke-width="0.5"/>
<line x1="303.4" y1="68.45" x2="304.2" y2="68.45" stroke="#333" stroke-width="0.5"/>
<line x1="304.7" y1="140.3" x2="304.7" y2="142.9" stroke="#222" stroke-width="0.8"/>
<line x1="304.9" y1="146" x2="304.3" y2="150.2" stroke="#333" stroke-width="0.6"/>
<g font-family='"Liberation Serif", serif' fill="#303030">
<text x="140.1 146.22 152.35 158.47 164.59 170.71 175.61 182.96 189.08 195.2 201.33 207.45 213.57 219.69" y="12" font-size="12.3" text-anchor="middle" transform="scale(0.98 1)" aria-label="Time=7.776E5 s">Ti<tspan textLength="6.58" lengthAdjust="spacingAndGlyphs">m</tspan>e=7.776<tspan textLength="6.58" lengthAdjust="spacingAndGlyphs">E</tspan>5 s</text>
<text x="80 86.12 92.24 98.37 104.49 109.39 116.73 122.86 128.98 135.1 141.22 147.35 153.47 159.59 165.71 171.84 177.96 184.08 190.2 196.33 202.45 208.57 214.69 220.82 226.94 233.06 239.18 245.31 251.43 257.55 263.67 269.8 275.92 282.04 288.16" y="25.4" font-size="12.3" text-anchor="middle" transform="scale(0.98 1)" aria-label="Slice: Dependent variable pfg (MPa)">Slice: <tspan textLength="7.2" lengthAdjust="spacingAndGlyphs">D</tspan>ependent variable pfg (<tspan textLength="6.79" lengthAdjust="spacingAndGlyphs">M</tspan>Pa)</text>
<text x="315.61 320.51 327.86" y="213" font-size="12.3" text-anchor="middle" transform="scale(0.98 1)">0.1</text>
<text x="315.61 320.51 327.86" y="184.95" font-size="12.3" text-anchor="middle" transform="scale(0.98 1)">0.2</text>
<text x="315.61 320.51 327.86" y="156.9" font-size="12.3" text-anchor="middle" transform="scale(0.98 1)">0.3</text>
<text x="315.61 320.51 327.86" y="128.85" font-size="12.3" text-anchor="middle" transform="scale(0.98 1)">0.4</text>
<text x="315.61 320.51 327.86" y="100.8" font-size="12.3" text-anchor="middle" transform="scale(0.98 1)">0.5</text>
<text x="315.61 320.51 327.86" y="72.75" font-size="12.3" text-anchor="middle" transform="scale(0.98 1)">0.6</text>
<text x="50.41" y="169.3" font-size="12.3" text-anchor="middle" transform="scale(0.98 1)">0</text>
<text x="100.41 106.53" y="167.8" font-size="12.3" text-anchor="middle" transform="scale(0.98 1)">20</text>
<text x="152.86 158.98" y="165.8" font-size="12.3" text-anchor="middle" transform="scale(0.98 1)">40</text>
<text x="204.69 210.82" y="164.5" font-size="12.3" text-anchor="middle" transform="scale(0.98 1)">60</text>
<text x="256.73 262.86" y="163.2" font-size="12.3" text-anchor="middle" transform="scale(0.98 1)">80</text>
<text x="289.39" y="72.2" font-size="12.3" text-anchor="middle" transform="scale(0.98 1)">0</text>
<text x="295.71 301.84" y="97.5" font-size="12.3" text-anchor="middle" transform="scale(0.98 1)">20</text>
<text x="44.39" y="195.6" font-size="10.5" text-anchor="middle" transform="scale(0.98 1)">z</text>
<text x="58.88" y="205.6" font-size="10.5" text-anchor="middle" transform="scale(0.98 1)">y</text>
<text x="45.41" y="214.71" font-size="10.5" text-anchor="middle" transform="scale(0.98 1)">x</text>
</g>
<g transform="translate(0 0.7)">
<line x1="43.25" y1="204.4" x2="43.25" y2="198" stroke="#4a86d8" stroke-width="0.9"/>
<polygon points="43.25,195.9 44.3,198.8 42.2,198.8" fill="#4a86d8"/>
<line x1="43" y1="204.2" x2="50.6" y2="204.2" stroke="#4db848" stroke-width="0.7"/>
<polygon points="52.8,204.2 50,203.2 50,205.2" fill="#4db848"/>
<line x1="43.3" y1="204.2" x2="43.5" y2="208.6" stroke="#e0306a" stroke-width="1.4"/>
<polygon points="43.9,206.6 44.9,208.6 43.6,208.8" fill="#e0306a"/>
</g>
<rect x="334.2" y="1.5" width="4.9" height="3.3" rx="0.9" fill="#2f62c4"/>
<polygon points="335.2,2.1 335.2,4.2 337.1,3.15" fill="#ece45a"/>
<rect x="337.0" y="2.6" width="0.9" height="1.1" fill="#3aa7e0"/>
</g>
<g font-family='"Liberation Sans", sans-serif' font-size="18" fill="#000" stroke="#000" stroke-width="0.45" text-anchor="middle">
<text x="2.9 11.4 22.1" y="219.8 221.8 219.8">(a)</text>
<text x="343.7 352.5 363.8" y="219.8 221.8 219.8">(b)</text>
<text x="168.4 178 187.4" y="463 465 463" stroke-width="0.9">(c)</text>
</g>
</svg>
</body></html>
